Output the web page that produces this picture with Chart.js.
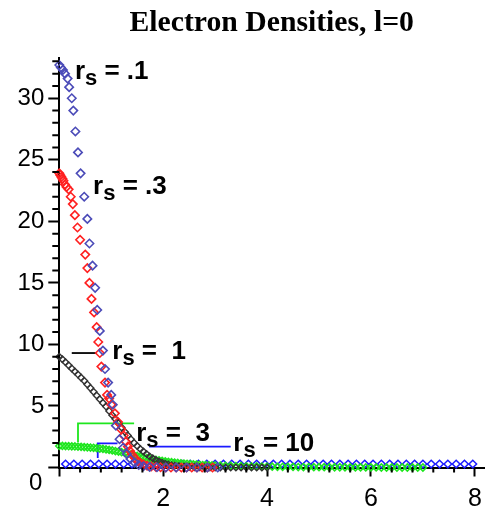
<!DOCTYPE html>
<html>
<head>
<meta charset="utf-8">
<script src="https://cdn.jsdelivr.net/npm/chart.js@4.4.0/dist/chart.umd.min.js"></script>
<style>
  html, body { margin: 0; padding: 0; background: #fff; }
  canvas { display: block; }
</style>
</head>
<body>
<canvas id="densityChart" width="490" height="513"></canvas>
<script>
// rs = .1
const rs01X = [0.00, 0.03, 0.07, 0.11, 0.16, 0.19, 0.24, 0.27, 0.31, 0.36, 0.41, 0.48, 0.54, 0.58, 0.64, 0.69, 0.73, 0.78, 0.84, 0.88, 0.94, 1.00, 1.03, 1.09, 1.16, 1.23, 1.30, 1.37, 1.45, 1.53, 1.62, 1.74, 1.88, 2.05, 2.25, 2.45, 2.65, 2.85, 3.05];
const rs01Y = [32.7, 32.5, 32.3, 32.0, 31.6, 30.9, 30.0, 29.0, 27.3, 25.6, 23.9, 22.0, 20.2, 18.2, 16.4, 14.6, 12.8, 11.1, 9.5, 8.0, 6.9, 5.9, 5.1, 3.4, 2.3, 1.6, 1.1, 0.7, 0.4, 0.2, 0.1, 0.05, 0.02, 0, 0, 0, 0, 0, 0];

// rs = .3
const rs03X = [0.00, 0.02, 0.04, 0.06, 0.08, 0.11, 0.14, 0.18, 0.22, 0.26, 0.30, 0.35, 0.40, 0.50, 0.54, 0.58, 0.62, 0.67, 0.72, 0.75, 0.78, 0.81, 0.88, 0.92, 0.96, 1.00, 1.07, 1.13, 1.19, 1.24, 1.28, 1.32, 1.36, 1.40, 1.45, 1.50, 1.56, 1.62, 1.69, 1.77, 1.86, 1.95, 2.05, 2.15, 2.25, 2.35, 2.45, 2.55, 2.65, 2.75, 2.85, 2.95];
const rs03Y = [23.9, 23.75, 23.6, 23.45, 23.3, 23.0, 22.8, 22.6, 22.0, 21.4, 20.5, 19.5, 18.5, 17.3, 16.2, 15.0, 13.7, 12.6, 11.4, 10.2, 9.3, 8.2, 6.9, 5.9, 5.6, 5.1, 4.4, 3.7, 3.1, 2.6, 2.1, 1.7, 1.35, 1.05, 0.8, 0.55, 0.38, 0.25, 0.15, 0.08, 0.04, 0.02, 0, 0, 0, 0, 0, 0, 0, 0, 0, 0];

// rs = 1
const rs1X = [0.00, 0.06, 0.12, 0.18, 0.24, 0.30, 0.36, 0.42, 0.48, 0.54, 0.60, 0.66, 0.72, 0.78, 0.84, 0.90, 0.96, 1.02, 1.08, 1.14, 1.20, 1.26, 1.32, 1.38, 1.44, 1.50, 1.56, 1.62, 1.68, 1.74, 1.80, 1.86, 1.92, 1.98, 2.04, 2.10, 2.16, 2.22, 2.30, 2.40, 2.50, 2.60, 2.70, 2.80, 2.90, 3.00, 3.10, 3.20, 3.30, 3.40, 3.50, 3.60, 3.70, 3.80, 3.90, 4.00];
const rs1Y = [9.0, 8.8, 8.55, 8.3, 8.05, 7.8, 7.55, 7.3, 7.05, 6.75, 6.45, 6.15, 5.85, 5.55, 5.25, 4.95, 4.6, 4.25, 3.95, 3.6, 3.25, 2.9, 2.6, 2.3, 2.0, 1.75, 1.5, 1.3, 1.1, 0.9, 0.75, 0.6, 0.48, 0.38, 0.3, 0.24, 0.18, 0.14, 0.1, 0.07, 0.05, 0.03, 0.02, 0.01, 0, 0, 0, 0, 0, 0, 0, 0, 0, 0, 0, 0];

// rs = 3
const rs3X = [0.00, 0.06, 0.12, 0.18, 0.24, 0.30, 0.36, 0.42, 0.48, 0.54, 0.60, 0.66, 0.72, 0.78, 0.84, 0.90, 0.96, 1.02, 1.08, 1.14, 1.20, 1.26, 1.32, 1.38, 1.44, 1.50, 1.56, 1.62, 1.68, 1.74, 1.80, 1.86, 1.92, 1.98, 2.04, 2.10, 2.16, 2.22, 2.28, 2.34, 2.40, 2.46, 2.52, 2.58, 2.64, 2.70, 2.76, 2.82, 2.88, 2.94, 3.00,
  3.1, 3.2, 3.3, 3.4, 3.5, 3.6, 3.7, 3.8, 3.9, 4.0, 4.1, 4.2, 4.3, 4.4, 4.5, 4.6, 4.7, 4.8, 4.9, 5.0, 5.1, 5.2, 5.3, 5.4, 5.5, 5.6, 5.7, 5.8, 5.9, 6.0, 6.1, 6.2, 6.3, 6.4, 6.5, 6.6, 6.7, 6.8, 6.9, 7.0];
const rs3Y = [1.75, 1.75, 1.74, 1.73, 1.72, 1.71, 1.70, 1.68, 1.66, 1.64, 1.62, 1.60, 1.57, 1.54, 1.51, 1.47, 1.43, 1.39, 1.34, 1.29, 1.24, 1.18, 1.12, 1.06, 1.00, 0.94, 0.88, 0.82, 0.77, 0.72, 0.67, 0.62, 0.58, 0.54, 0.50, 0.46, 0.43, 0.40, 0.37, 0.34, 0.32, 0.30, 0.28, 0.26, 0.24, 0.22, 0.20, 0.19, 0.18, 0.17, 0.16,
  0.15, 0.14, 0.13, 0.12, 0.11, 0.10, 0.09, 0.09, 0.08, 0.07, 0.07, 0.06, 0.06, 0.05, 0.05, 0.04, 0.04, 0.04, 0.03, 0.03, 0.03, 0.02, 0.02, 0.02, 0.02, 0.01, 0.01, 0.01, 0.01, 0.01, 0.01, 0, 0, 0, 0, 0, 0, 0, 0, 0];

// rs = 10
const rs10X = [0.12, 0.28, 0.44, 0.60, 0.76, 0.92, 1.08, 1.24, 1.40, 1.56, 1.72, 1.88, 2.04, 2.20, 2.36, 2.52, 2.68, 2.84, 3.00, 3.16, 3.32, 3.48, 3.64, 3.80, 3.96, 4.12, 4.28, 4.44, 4.60, 4.76, 4.92, 5.08, 5.24, 5.40, 5.56, 5.72, 5.88, 6.04, 6.20, 6.36, 6.52, 6.68, 6.84, 7.00, 7.16, 7.32, 7.48, 7.64, 7.80, 7.96];
const rs10Y = [0.28, 0.28, 0.28, 0.28, 0.28, 0.28, 0.28, 0.28, 0.28, 0.28, 0.28, 0.28, 0.28, 0.28, 0.28, 0.28, 0.28, 0.28, 0.28, 0.28, 0.28, 0.28, 0.28, 0.28, 0.28, 0.28, 0.28, 0.28, 0.28, 0.28, 0.28, 0.28, 0.28, 0.28, 0.28, 0.28, 0.28, 0.28, 0.28, 0.28, 0.28, 0.28, 0.28, 0.28, 0.28, 0.28, 0.28, 0.28, 0.28, 0.28];

// label pointer lines (data units)
const pointer1X = [0.24, 0.72];
const pointer1Y = [9.3, 9.3];
const pointer3X = [0.36, 0.36, 1.44];
const pointer3Y = [2.07, 3.58, 3.58];
const pointer10aX = [0.74, 0.74, 1.12];
const pointer10aY = [0.77, 1.96, 1.96];
const pointer10bX = [1.73, 3.30];
const pointer10bY = [1.69, 1.69];

// curve labels: r_s = ...
const labelText = [' = .1', ' = .3', ' =  1', ' =  3', ' = 10'];
const labelX = [0.30, 0.65, 1.02, 1.48, 3.35];
const labelY = [31.56, 22.22, 8.85, 2.15, 1.34];

const xMinorTicks = [0.4, 0.8, 1.2, 1.6, 2.4, 2.8, 3.2, 3.6, 4.4, 4.8, 5.2, 5.6, 6.4, 6.8, 7.2, 7.6];
const yMinorTicks = [1, 2, 3, 4, 6, 7, 8, 9, 11, 12, 13, 14, 16, 17, 18, 19, 21, 22, 23, 24, 26, 27, 28, 29, 31, 32, 33];

function toPoints(xs, ys) {
    return xs.map((x, i) => ({ x: x, y: ys[i] }));
}

function pointSet(xs, ys, color, radius, width) {
    return {
        data: toPoints(xs, ys),
        pointStyle: 'rectRot',
        pointRadius: radius,
        pointBorderColor: color,
        pointBackgroundColor: 'rgba(0,0,0,0)',
        pointBorderWidth: width,
        showLine: false,
        clip: false
    };
}

function pointerSet(xs, ys, color) {
    return {
        data: toPoints(xs, ys),
        showLine: true,
        borderColor: color,
        borderWidth: 1.8,
        pointRadius: 0,
        clip: false
    };
}

const extras = {
    id: 'extras',
    afterDraw(chart) {
        const { ctx, chartArea, scales: { x, y } } = chart;
        ctx.save();
        ctx.strokeStyle = '#000';
        ctx.lineWidth = 2;
        ctx.beginPath();
        xMinorTicks.forEach(v => {
            const px = x.getPixelForValue(v);
            ctx.moveTo(px, chartArea.bottom);
            ctx.lineTo(px, chartArea.bottom + 5);
        });
        yMinorTicks.forEach(v => {
            const py = y.getPixelForValue(v);
            ctx.moveTo(chartArea.left, py);
            ctx.lineTo(chartArea.left - 7, py);
        });
        ctx.stroke();

        ctx.fillStyle = '#000';
        ctx.font = '24px "Liberation Sans", Arial, sans-serif';
        ctx.textAlign = 'right';
        ctx.textBaseline = 'middle';
        ctx.fillText('0', chartArea.left - 17, y.getPixelForValue(0) + 16);

        ctx.textAlign = 'left';
        ctx.textBaseline = 'alphabetic';
        labelText.forEach((t, i) => {
            let px = x.getPixelForValue(labelX[i]);
            const py = y.getPixelForValue(labelY[i]);
            ctx.font = 'bold 26px "Liberation Sans", Arial, sans-serif';
            ctx.fillText('r', px, py);
            px += ctx.measureText('r').width;
            ctx.font = 'bold 22px "Liberation Sans", Arial, sans-serif';
            ctx.fillText('s', px, py + 6);
            px += ctx.measureText('s').width;
            ctx.font = 'bold 26px "Liberation Sans", Arial, sans-serif';
            ctx.fillText(t, px, py);
        });
        ctx.restore();
    }
};

new Chart(document.getElementById('densityChart').getContext('2d'), {
    type: 'scatter',
    data: {
        datasets: [
            pointSet(rs01X, rs01Y, '#4b4bb8', 4.2, 1.6),
            pointSet(rs03X, rs03Y, '#ff2020', 4.2, 1.6),
            pointSet(rs1X, rs1Y, '#333333', 3.3, 1.4),
            pointSet(rs3X, rs3Y, '#1ee61e', 3.5, 1.6),
            pointSet(rs10X, rs10Y, '#1a1aff', 3.8, 1.5),
            pointerSet(pointer1X, pointer1Y, '#000000'),
            pointerSet(pointer3X, pointer3Y, '#1ee61e'),
            pointerSet(pointer10aX, pointer10aY, '#1a1aff'),
            pointerSet(pointer10bX, pointer10bY, '#1a1aff')
        ]
    },
    options: {
        responsive: false,
        animation: false,
        layout: { padding: { left: 13.6, right: 2, top: 0, bottom: 0 } },
        plugins: {
            legend: { display: false },
            tooltip: { enabled: false },
            title: {
                display: true,
                fullSize: false,
                text: 'Electron Densities, l=0',
                color: '#000',
                font: { family: '"Liberation Serif", "Times New Roman", serif', size: 29.7, weight: 'bold' },
                padding: { top: 6, bottom: 16 }
            }
        },
        scales: {
            x: {
                type: 'linear',
                min: 0,
                max: 8.18,
                grid: { drawOnChartArea: false, tickLength: 9, tickColor: '#000', tickWidth: 2 },
                border: { color: '#000', width: 2 },
                ticks: {
                    stepSize: 2,
                    includeBounds: false,
                    padding: 7.5,
                    color: '#000',
                    font: { family: '"Liberation Sans", Arial, sans-serif', size: 25 },
                    callback: v => (v === 0 ? '' : v)
                },
                afterFit: scale => {
                    scale.height = 45.5;
                    scale.paddingRight = 0;
                }
            },
            y: {
                type: 'linear',
                min: 0,
                max: 33.3,
                grid: { drawOnChartArea: false, tickLength: 11, tickColor: '#000', tickWidth: 2 },
                border: { color: '#000', width: 2 },
                ticks: {
                    stepSize: 5,
                    includeBounds: false,
                    padding: 4,
                    color: '#000',
                    font: { family: '"Liberation Sans", Arial, sans-serif', size: 24 },
                    callback: v => (v === 0 ? '' : v)
                }
            }
        }
    },
    plugins: [extras]
});
</script>
</body>
</html>
